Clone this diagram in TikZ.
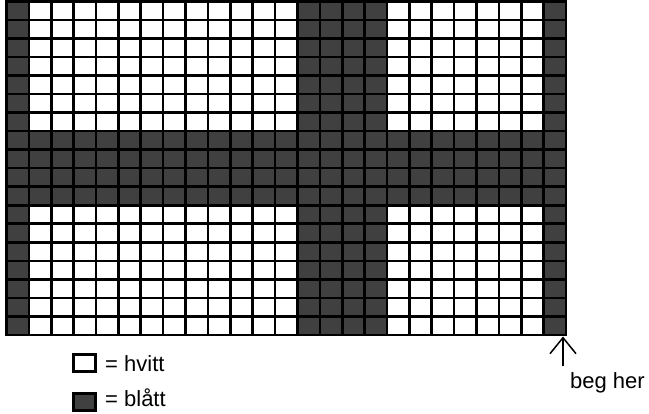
\documentclass[tikz,border=0pt]{standalone}
\usepackage{fontspec}
\setmainfont{Liberation Sans}
\usetikzlibrary{arrows.meta}
\definecolor{cellgray}{RGB}{64,64,64}
\begin{document}
\begin{tikzpicture}[x=1pt,y=-1pt,
  gridline/.style={line width=2.6pt,black},
  darkcell/.style={fill=cellgray},
  legendbox/.style={draw=black,line width=3pt},
  label/.style={font=\fontsize{22}{26}\selectfont,inner sep=0pt,anchor=base west},
  startarrow/.style={line width=1.5pt,-{Straight Barb[length=16pt,width=26pt,line width=1.5pt]}}]
\useasboundingbox (0,0) rectangle (649,414);
\pgfmathsetmacro{\gx}{6.5}
\pgfmathsetmacro{\gy}{1.3}
\pgfmathsetmacro{\dx}{22.38}
\pgfmathsetmacro{\dy}{18.54}
% dark cells
\foreach \c in {1,...,25}{
  \foreach \r in {1,...,18}{
    \pgfmathtruncatemacro{\isdark}{(\c==1)||(\c==25)||(\c>=14 && \c<=17)||(\r>=8 && \r<=11)}
    \ifnum\isdark=1
      \fill[darkcell] ({\gx+(\c-1)*\dx},{\gy+(\r-1)*\dy}) rectangle ({\gx+\c*\dx},{\gy+\r*\dy});
    \fi
  }
}
% grid lines
\foreach \c in {0,...,25}{
  \draw[gridline] ({\gx+\c*\dx},\gy) -- ({\gx+\c*\dx},{\gy+18*\dy});
}
\foreach \r in {0,...,18}{
  \draw[gridline] ({\gx-1.3},{\gy+\r*\dy}) -- ({\gx+25*\dx+1.3},{\gy+\r*\dy});
}
% legend
\draw[legendbox,fill=white] (73.3,354.3) rectangle (95,371.7);
\node[label] (hvitt) at (105,372) {= hvitt};
\draw[legendbox,fill=cellgray] (73.3,393.3) rectangle (95,410.2);
\node[label] (blaatt) at (105,407) {= blått};
% start arrow
\coordinate (corner) at (563,336.5);
\coordinate (start) at (563,366);
\draw[startarrow] (start) -- (corner);
\node[label] (beg) at (570,388.5) {beg her};
\end{tikzpicture}
\end{document}
